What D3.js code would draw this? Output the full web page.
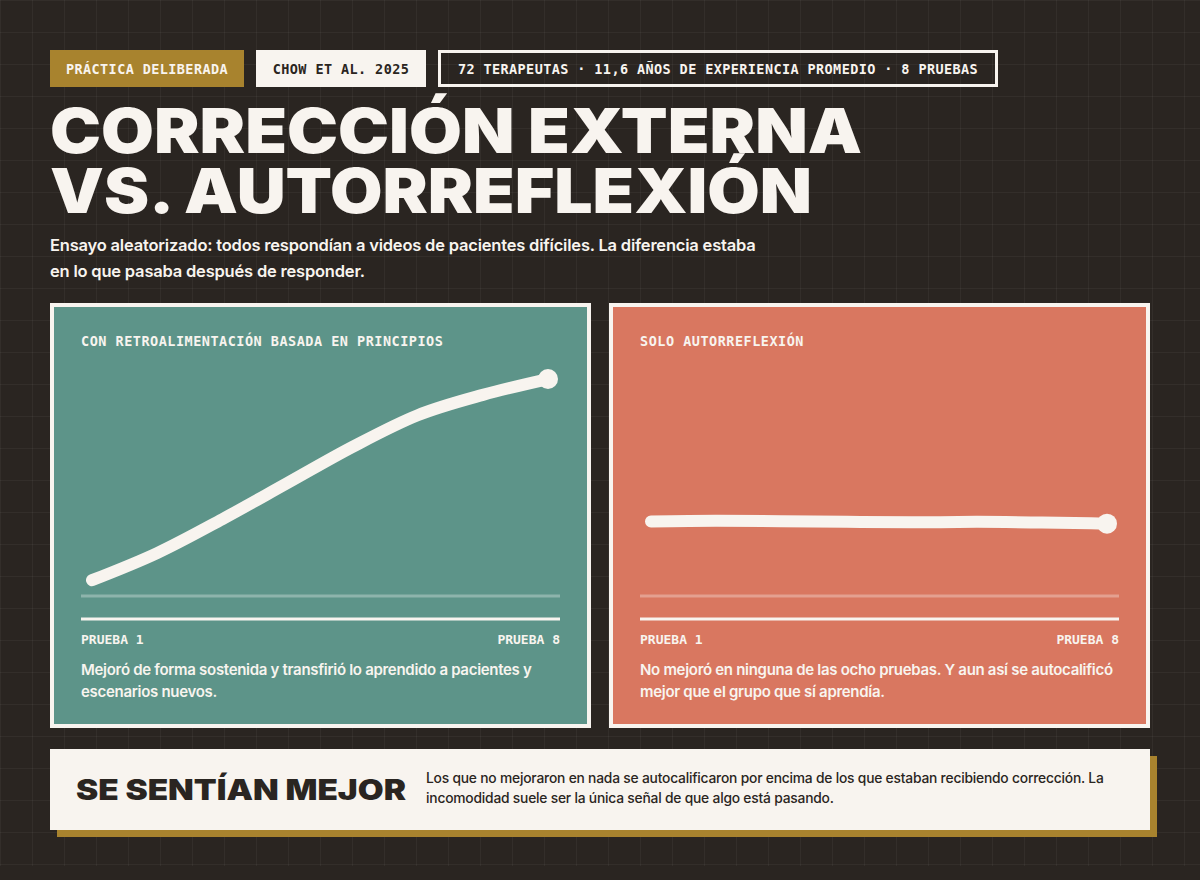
<!DOCTYPE html>
<html><head><meta charset="utf-8">
<script src="https://cdn.jsdelivr.net/npm/d3@7"></script>
<style>body{margin:0;background:#2a2521}</style>
</head><body><svg id="c"></svg>
<script>
// datos
const trials = [1, 2, 3, 4, 5, 6, 7, 8];
const feedbackScores = [7, 19, 34, 50, 66, 80, 89, 96];
const reflectionScores = [33, 33.3, 33.1, 32.8, 32.6, 32.8, 32.5, 32];
const tags = ["PRÁCTICA DELIBERADA", "CHOW ET AL. 2025", "72 TERAPEUTAS · 11,6 AÑOS DE EXPERIENCIA PROMEDIO · 8 PRUEBAS"];
const panels = [
  { title: "CON RETROALIMENTACIÓN BASADA EN PRINCIPIOS", color: "#5d9489", values: feedbackScores,
    note: ["Mejoró de forma sostenida y transfirió lo aprendido a pacientes y", "escenarios nuevos."] },
  { title: "SOLO AUTORREFLEXIÓN", color: "#d97760", values: reflectionScores,
    note: ["No mejoró en ninguna de las ocho pruebas. Y aun así se autocalificó", "mejor que el grupo que sí aprendía."] }
];

const W = 1200, H = 880, cream = "#f8f4ef", gold = "#a8832e", bg = "#2a2521";
const mono = "'DejaVu Sans Mono', monospace", sans = "Inter, 'Liberation Sans', sans-serif";
const svg = d3.select("#c").attr("width", W).attr("height", H);
svg.append("rect").attr("width", W).attr("height", H).attr("fill", bg);

// cuadrícula de fondo
const grid = svg.append("g").attr("stroke", "rgba(255,255,255,0.045)").attr("stroke-width", 1);
d3.range(0, W + 1, 32).forEach(x => grid.append("line").attr("x1", x + 0.5).attr("x2", x + 0.5).attr("y1", 0).attr("y2", 866));
d3.range(0, 867, 32).forEach(y => grid.append("line").attr("x1", 0).attr("x2", W).attr("y1", y + 0.5).attr("y2", y + 0.5));

// etiquetas
const tagBoxes = [
  { x: 50, w: 194, fill: gold, stroke: gold, text: cream },
  { x: 256, w: 170, fill: cream, stroke: cream, text: bg },
  { x: 438, w: 560, fill: "none", stroke: cream, text: cream }
];
tags.forEach((t, i) => {
  const b = tagBoxes[i];
  svg.append("rect").attr("x", b.x + 1.5).attr("y", 51.5).attr("width", b.w - 3).attr("height", 34)
    .attr("fill", b.fill).attr("stroke", b.stroke).attr("stroke-width", 3);
  svg.append("text").attr("x", b.x + b.w / 2).attr("y", 74).attr("text-anchor", "middle")
    .attr("font-family", mono).attr("font-weight", "bold").attr("font-size", 13.5)
    .attr("fill", b.text).attr("letter-spacing", 0.4).text(t);
});

// título
[["CORRECCIÓN EXTERNA", 153, 812], ["VS. AUTORREFLEXIÓN", 213, 762]].forEach(([t, y, len]) => {
  svg.append("text").attr("x", 50).attr("y", y).attr("font-family", sans)
    .attr("font-weight", 900).attr("font-size", 62).attr("fill", cream)
    .attr("textLength", len).attr("lengthAdjust", "spacingAndGlyphs").text(t);
});
["Ensayo aleatorizado: todos respondían a videos de pacientes difíciles. La diferencia estaba",
 "en lo que pasaba después de responder."].forEach((t, i) => {
  svg.append("text").attr("x", 50).attr("y", 251 + i * 26).attr("font-family", sans).attr("font-weight", 600)
    .attr("font-size", 16.5).attr("fill", cream).attr("letter-spacing", -0.2).text(t);
});

// paneles
const x = d3.scaleLinear().domain([1, 8]).range([92, 548]);
const y = d3.scaleLinear().domain([0, 100]).range([596, 370]);
const line = d3.line().x(d => x(d.t)).y(d => y(d.v)).curve(d3.curveMonotoneX);

panels.forEach((p, i) => {
  const g = svg.append("g").attr("transform", `translate(${i * 559},0)`);
  g.append("rect").attr("x", 52).attr("y", 305).attr("width", 537).attr("height", 421)
    .attr("fill", p.color).attr("stroke", cream).attr("stroke-width", 4);
  g.append("text").attr("x", 81).attr("y", 346).attr("font-family", mono).attr("font-weight", "bold")
    .attr("font-size", 13.5).attr("fill", cream).attr("letter-spacing", 0.5).text(p.title);
  g.append("line").attr("x1", 81).attr("x2", 560).attr("y1", 596).attr("y2", 596)
    .attr("stroke", "rgba(255,255,255,0.3)").attr("stroke-width", 3);
  g.append("line").attr("x1", 81).attr("x2", 560).attr("y1", 619).attr("y2", 619)
    .attr("stroke", cream).attr("stroke-width", 3);
  const data = trials.map((t, k) => ({ t, v: p.values[k] }));
  g.append("path").attr("d", line(data)).attr("fill", "none").attr("stroke", cream)
    .attr("stroke-width", 12).attr("stroke-linecap", "round");
  g.append("circle").attr("cx", x(8)).attr("cy", y(p.values[7])).attr("r", 10).attr("fill", cream);
  g.append("text").attr("x", 81).attr("y", 644).attr("font-family", mono).attr("font-weight", "bold")
    .attr("font-size", 13).attr("fill", cream).text("PRUEBA " + trials[0]);
  g.append("text").attr("x", 560).attr("y", 644).attr("text-anchor", "end").attr("font-family", mono)
    .attr("font-weight", "bold").attr("font-size", 13).attr("fill", cream).text("PRUEBA " + trials[7]);
  p.note.forEach((t, k) => g.append("text").attr("x", 81).attr("y", 675 + k * 22).attr("font-family", sans)
    .attr("font-weight", 600).attr("font-size", 15).attr("fill", cream).attr("letter-spacing", -0.3).text(t));
});

// recuadro inferior
svg.append("rect").attr("x", 57).attr("y", 756).attr("width", 1100).attr("height", 81).attr("fill", gold);
svg.append("rect").attr("x", 50).attr("y", 749).attr("width", 1100).attr("height", 81).attr("fill", cream);
svg.append("text").attr("x", 76).attr("y", 800).attr("font-family", sans).attr("font-weight", 900)
  .attr("font-size", 28).attr("fill", bg).attr("textLength", 330).attr("lengthAdjust", "spacingAndGlyphs")
  .text("SE SENTÍAN MEJOR");
["Los que no mejoraron en nada se autocalificaron por encima de los que estaban recibiendo corrección. La",
 "incomodidad suele ser la única señal de que algo está pasando."].forEach((t, i) => {
  svg.append("text").attr("x", 426).attr("y", 783 + i * 20).attr("font-family", sans).attr("font-weight", 500)
    .attr("font-size", 13.8).attr("fill", bg).attr("letter-spacing", -0.2).text(t);
});
</script></body></html>
